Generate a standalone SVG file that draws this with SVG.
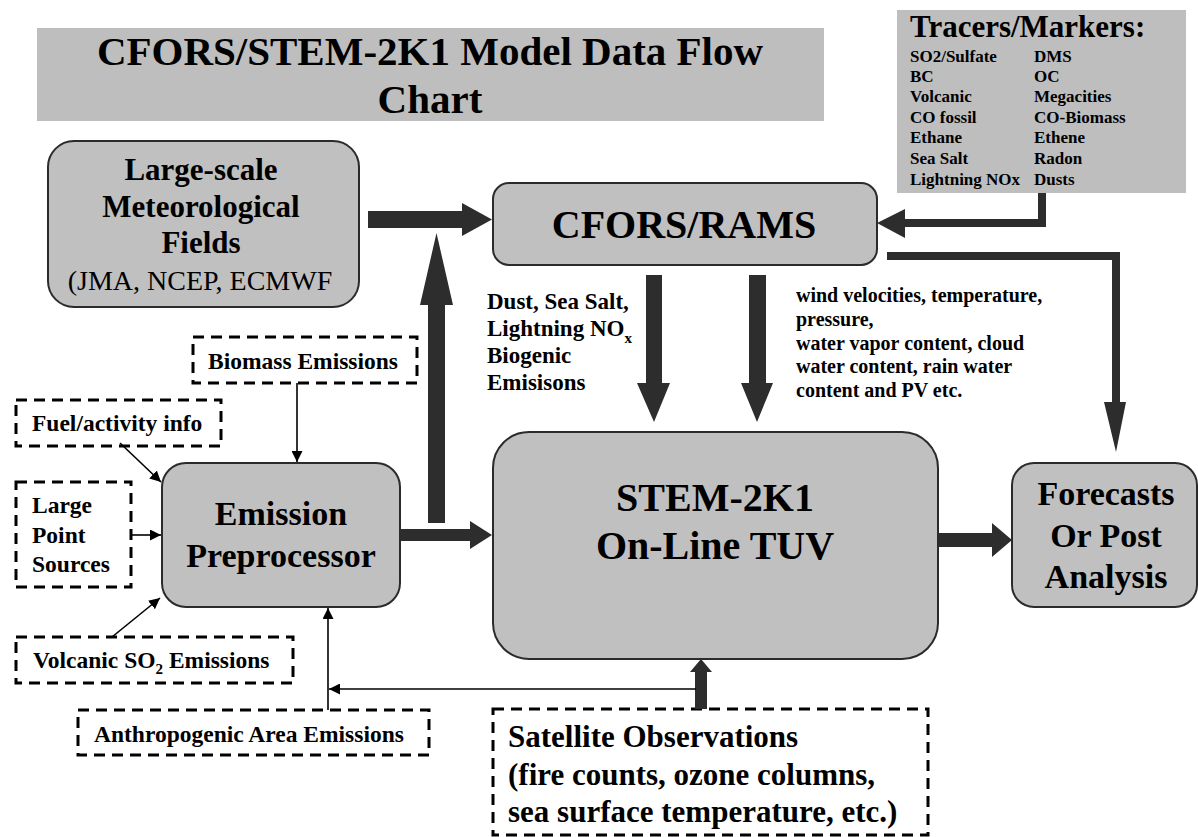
<svg xmlns="http://www.w3.org/2000/svg" width="1198" height="837" viewBox="0 0 1198 837">
<style>
text{font-family:"Liberation Serif","Times New Roman",serif;font-weight:bold;fill:#000}
.node{fill:#c0c0c0;stroke:#2b2b2b;stroke-width:2}
.dash{fill:#fff;stroke:#000;stroke-width:3;stroke-dasharray:11 7}
.thick{fill:#2d2d2d;stroke:none}
.thin{stroke:#000;stroke-width:1.6;fill:none}
.c{text-anchor:middle}
.t1{font-size:41px}
.big{font-size:40px}
.mid{font-size:34px}
.ls{font-size:31px}
.dl{font-size:23.5px}
.tr{font-size:17px}
.wv{font-size:20px}
.ds{font-size:23px}
.sat{font-size:31px}
</style>
<defs>
<marker id="ah" viewBox="0 0 10 10" refX="10" refY="5" markerWidth="11" markerHeight="11" markerUnits="userSpaceOnUse" orient="auto">
<path d="M0,0 L10,5 L0,10 z" fill="#000"/>
</marker>
</defs>
<rect x="0" y="0" width="1198" height="837" fill="#fff"/>

<g id="title">
<rect x="37" y="28" width="787" height="93" fill="#bebebe"/>
<text class="t1 c" x="430" y="65">CFORS/STEM-2K1 Model Data Flow</text>
<text class="t1 c" x="430" y="113">Chart</text>
</g>

<g id="tracers">
<rect x="897" y="10" width="289" height="183" fill="#bebebe"/>
<text x="910" y="37" style="font-size:31px">Tracers/Markers:</text>
<text class="tr" x="910" y="62">SO2/Sulfate</text><text class="tr" x="1034" y="62">DMS</text>
<text class="tr" x="910" y="82">BC</text><text class="tr" x="1034" y="82">OC</text>
<text class="tr" x="910" y="102">Volcanic</text><text class="tr" x="1034" y="102">Megacities</text>
<text class="tr" x="910" y="123">CO fossil</text><text class="tr" x="1034" y="123">CO-Biomass</text>
<text class="tr" x="910" y="143">Ethane</text><text class="tr" x="1034" y="143">Ethene</text>
<text class="tr" x="910" y="164">Sea Salt</text><text class="tr" x="1034" y="164">Radon</text>
<text class="tr" x="910" y="185">Lightning NOx</text><text class="tr" x="1034" y="185">Dusts</text>
</g>

<g id="met">
<rect class="node" x="48" y="141" width="311" height="166" rx="26"/>
<text class="ls c" x="201" y="180">Large-scale</text>
<text class="ls c" x="201" y="217">Meteorological</text>
<text class="ls c" x="201" y="253">Fields</text>
<text class="c" x="200" y="290" style="font-size:28px;font-weight:normal">(JMA, NCEP, ECMWF</text>
</g>

<g id="cfors">
<rect class="node" x="493" y="183" width="384" height="82" rx="16"/>
<text class="c" x="684" y="238" style="font-size:40px">CFORS/RAMS</text>
</g>

<g id="emission">
<rect class="node" x="162" y="463" width="238" height="144" rx="24"/>
<text class="mid c" x="281" y="525">Emission</text>
<text class="mid c" x="281" y="567">Preprocessor</text>
</g>

<g id="stem">
<rect class="node" x="493" y="432" width="445" height="227" rx="36"/>
<text class="big c" x="715" y="511">STEM-2K1</text>
<text class="big c" x="715" y="559">On-Line TUV</text>
</g>

<g id="forecasts">
<rect class="node" x="1012" y="463" width="185" height="144" rx="22"/>
<text class="mid c" x="1106" y="505">Forecasts</text>
<text class="mid c" x="1106" y="547">Or Post</text>
<text class="mid c" x="1106" y="588">Analysis</text>
</g>

<g id="biomass">
<rect class="dash" x="193" y="337" width="224" height="46"/>
<text class="dl" x="208" y="369">Biomass Emissions</text>
</g>

<g id="fuel">
<rect class="dash" x="16" y="400" width="205" height="46"/>
<text class="dl" x="32" y="431">Fuel/activity info</text>
</g>

<g id="lps">
<rect class="dash" x="16" y="482" width="115" height="105"/>
<text class="dl" x="32" y="513">Large</text>
<text class="dl" x="32" y="543">Point</text>
<text class="dl" x="32" y="572">Sources</text>
</g>

<g id="volcanic">
<rect class="dash" x="16" y="637" width="277" height="46"/>
<text class="dl" x="33" y="668">Volcanic SO<tspan dy="6" style="font-size:15px">2</tspan><tspan dy="-6"> Emissions</tspan></text>
</g>

<g id="anthro">
<rect class="dash" x="78" y="710" width="351" height="45"/>
<text class="dl" x="94" y="742">Anthropogenic Area Emissions</text>
</g>

<g id="satellite">
<rect class="dash" x="493" y="709" width="435" height="126"/>
<text class="sat" x="508" y="747">Satellite Observations</text>
<text class="sat" x="508" y="785">(fire counts, ozone columns,</text>
<text class="sat" x="508" y="822">sea surface temperature, etc.)</text>
</g>

<g id="labels">
<text class="ds" x="487" y="309">Dust, Sea Salt,</text>
<text class="ds" x="487" y="336">Lightning NO<tspan dy="7" style="font-size:15px">x</tspan></text>
<text class="ds" x="487" y="363">Biogenic</text>
<text class="ds" x="487" y="390">Emisisons</text>
<text class="wv" x="796" y="302">wind velocities, temperature,</text>
<text class="wv" x="796" y="326">pressure,</text>
<text class="wv" x="796" y="350">water vapor content, cloud</text>
<text class="wv" x="796" y="373">water content, rain water</text>
<text class="wv" x="796" y="397">content and PV etc.</text>
</g>

<g id="connectors">
<polygon class="thick" points="368,211 462,211 462,203 492,219.5 462,236 462,228 368,228"/>
<polygon class="thick" points="428,523 428,305 420,305 436.5,233 453,305 445,305 445,523"/>
<polygon class="thick" points="400,529 470,529 470,521 492,535 470,549 470,541 400,541"/>
<polygon class="thick" points="646,275 662,275 662,383 670,383 654,422 637,383 646,383"/>
<polygon class="thick" points="749,275 766,275 766,383 773,383 757,422 741,383 749,383"/>
<polygon class="thick" points="938,533 992,533 992,523 1012,540 992,557 992,547 938,547"/>
<polygon class="thick" points="887,252 1120,252 1120,402 1126,402 1116,452 1104,402 1112,402 1112,260 887,260"/>
<polygon class="thick" points="1038,193 1046,193 1046,227 905,227 905,238 877,223 905,209 905,219 1038,219"/>
<polygon class="thick" points="695,709 695,672 690,672 701,659 712,672 707,672 707,709"/>
<line class="thin" x1="297" y1="383" x2="297" y2="462" marker-end="url(#ah)"/>
<line class="thin" x1="120" y1="443" x2="161" y2="482" marker-end="url(#ah)"/>
<line class="thin" x1="131" y1="535" x2="161" y2="535" marker-end="url(#ah)"/>
<line class="thin" x1="112" y1="637" x2="160" y2="598" marker-end="url(#ah)"/>
<line class="thin" x1="328" y1="710" x2="328" y2="608" marker-end="url(#ah)"/>
<line class="thin" x1="696" y1="689" x2="329" y2="689" marker-end="url(#ah)"/>
</g>
</svg>
